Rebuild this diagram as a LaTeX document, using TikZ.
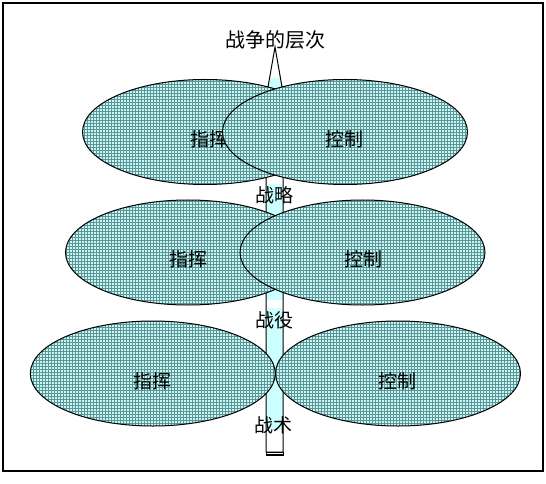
\documentclass[tikz,border=0pt]{standalone}
\usepackage{fontspec}
\newfontfamily\cjk{Noto Sans CJK SC}
\usetikzlibrary{patterns,shapes.geometric}
\pgfdeclarepatternformonly{tealgrid}{\pgfqpoint{-0.5bp}{-0.5bp}}{\pgfqpoint{3.5bp}{3.5bp}}{\pgfqpoint{3bp}{3bp}}{%
  \pgfsetlinewidth{1bp}%
  \pgfpathmoveto{\pgfqpoint{0bp}{0bp}}\pgfpathlineto{\pgfqpoint{0bp}{3.1bp}}%
  \pgfpathmoveto{\pgfqpoint{0bp}{0bp}}\pgfpathlineto{\pgfqpoint{3.1bp}{0bp}}%
  \pgfusepath{stroke}}
\definecolor{ellbase}{HTML}{CCF5F5}
\definecolor{ellgrid}{HTML}{5A9696}
\definecolor{barcyan}{HTML}{CCFFFF}
\tikzset{
  ell/.style={ellipse, draw=black, line width=1bp, minimum width=245bp, minimum height=105bp,
    inner sep=0pt, preaction={fill=ellbase}, pattern=tealgrid, pattern color=ellgrid},
  lbl/.style={font=\cjk\fontsize{19bp}{21bp}\selectfont, inner sep=0pt, text=black},
  outline/.style={draw=black, line width=1bp}
}
\begin{document}
\begin{tikzpicture}[x=1bp,y=-1bp]
\useasboundingbox (0,0) rectangle (546,484);
\fill[white] (0,0) rectangle (546,484);
\draw[line width=1.2bp] (3,3) rectangle (543,471);
% vertical bar
\fill[barcyan] (266,87) rectangle (283,452);
\fill[white] (266,176) rectangle (283,184);
\fill[white] (266,300) rectangle (283,308);
\fill[white] (266,430) rectangle (283,452);
\fill[white] (275,47) -- (268,87) -- (282,87) -- cycle;
\fill[barcyan] (269.6,78) -- (280.4,78) -- (282,87) -- (268,87) -- cycle;
\draw[outline] (266,452) -- (266,87) -- (268,87) -- (275,47) -- (282,87) -- (283,87) -- (283,452) -- cycle;
\fill[black] (265.5,451.5) rectangle (283.5,456);
\draw[white, line width=0.8bp] (266.5,453.3) -- (282.5,453.3);
% row 1
\node[ell] (e1l) at (205,132) {};
\node[lbl] (l1l) at (209,139) {指挥};
\node[ell] (e1r) at (345,132) {};
\node[lbl] (l1r) at (344,139) {控制};
% row 2
\node[ell] (e2l) at (188,252.5) {};
\node[lbl] (l2l) at (188.5,259) {指挥};
\node[ell] (e2r) at (362.5,252.5) {};
\node[lbl] (l2r) at (363.5,259) {控制};
% row 3
\node[ell] (e3l) at (152.8,373.5) {};
\node[lbl] (l3l) at (152.5,381) {指挥};
\node[ell] (e3r) at (398,373.5) {};
\node[lbl] (l3r) at (397.8,381) {控制};
% level labels
\node[lbl, font=\cjk\fontsize{20bp}{22bp}\selectfont] (top) at (275,40) {战争的层次};
\node[lbl] (s1) at (274,195) {战略};
\node[lbl] (s2) at (274,320) {战役};
\node[lbl] (s3) at (273,425) {战术};
\end{tikzpicture}
\end{document}
